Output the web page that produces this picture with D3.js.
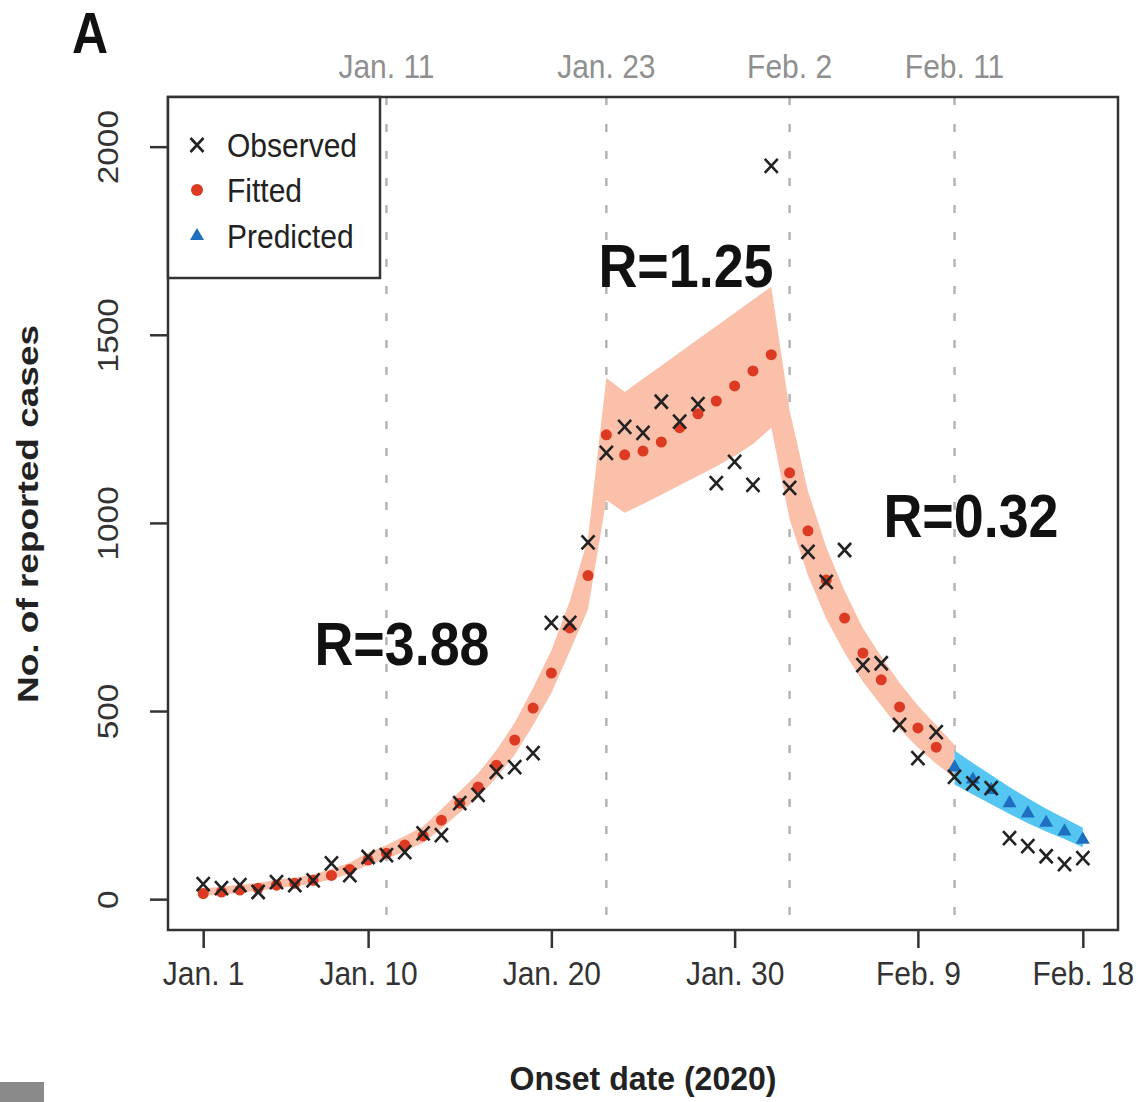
<!DOCTYPE html>
<html>
<head>
<meta charset="utf-8">
<script src="https://cdn.jsdelivr.net/npm/d3@7"></script>
<style>
  html, body { margin: 0; padding: 0; background: #fff; }
  svg { display: block; font-family: "Liberation Sans", Arial, sans-serif; }
</style>
</head>
<body>
<div id="chart"></div>
<script>
// Daily counts, Jan 1 - Feb 18 2020
const observed = [40, 29, 37, 19, 45, 37, 50, 95, 64, 112,
  117, 125, 175, 170, 255, 277, 338, 351, 388, 734,
  734, 948, 1186, 1255, 1239, 1322, 1269, 1316, 1106, 1162,
  1101, 1949, 1093, 923, 843, 928, 622, 627, 463, 375,
  444, 325, 308, 295, 162, 141, 114, 93, 109];

// Fitted, Jan 1 - Feb 10
const fitted = [15, 19, 24, 29, 37, 42, 50, 63, 79, 104,
  122, 144, 168, 210, 255, 298, 356, 423, 508, 601,
  721, 860, 1234, 1181, 1191, 1215, 1253, 1290, 1324, 1364,
  1404, 1447, 1133, 979, 848, 747, 654, 583, 511, 455, 404];

// Fitted band, Jan 1 - Feb 11
const fittedLower = [9, 12, 17, 22, 29, 34, 41, 53, 68, 91,
  107, 127, 150, 188, 230, 269, 323, 384, 462, 548,
  658, 770, 1061, 1027, 1050, 1075, 1100, 1125, 1150, 1178,
  1210, 1253, 1010, 860, 745, 655, 578, 515, 452, 403, 360, 322];
const fittedUpper = [28, 33, 38, 43, 52, 57, 66, 80, 97, 124,
  144, 168, 193, 239, 287, 334, 396, 469, 561, 661,
  791, 960, 1386, 1348, 1383, 1418, 1453, 1488, 1523, 1558,
  1593, 1628, 1300, 1085, 935, 820, 720, 645, 575, 515, 462, 410];

// Predicted, Feb 11 - Feb 18
const predicted = [350, 318, 290, 255, 228, 203, 180, 158];
const predLower = [305, 278, 252, 226, 202, 180, 160, 138];
const predUpper = [395, 362, 330, 298, 268, 240, 215, 190];

const bottomTicks = ["2020-01-01", "2020-01-10", "2020-01-20", "2020-01-30", "2020-02-09", "2020-02-18"];
const bottomTickLabels = ["Jan. 1", "Jan. 10", "Jan. 20", "Jan. 30", "Feb. 9", "Feb. 18"];
const markerDates = ["2020-01-11", "2020-01-23", "2020-02-02", "2020-02-11"];
const markerLabels = ["Jan. 11", "Jan. 23", "Feb. 2", "Feb. 11"];
const yTicks = [0, 500, 1000, 1500, 2000];
const rLabels = ["R=3.88", "R=1.25", "R=0.32"];
const legendLabels = ["Observed", "Fitted", "Predicted"];

const parse = d3.utcParse("%Y-%m-%d");
const start = parse("2020-01-01");
const dayList = (from, n) => d3.utcDay.range(from, d3.utcDay.offset(from, n));

const obsData = dayList(start, observed.length).map((d, i) => ({ date: d, v: observed[i] }));
const fitData = dayList(start, fitted.length).map((d, i) => ({ date: d, v: fitted[i] }));
const fitBand = dayList(start, fittedLower.length).map((d, i) => ({ date: d, lo: fittedLower[i], hi: fittedUpper[i] }));
const predStart = parse("2020-02-11");
const predData = dayList(predStart, predicted.length).map((d, i) => ({ date: d, v: predicted[i], lo: predLower[i], hi: predUpper[i] }));

const W = 1138, H = 1102;
const plot = { left: 168, right: 1118, top: 97, bottom: 930 };

const svg = d3.select("#chart").append("svg")
  .attr("width", W).attr("height", H)
  .attr("viewBox", `0 0 ${W} ${H}`);

// R style 4% padding
const padX = (plot.right - plot.left) * 0.04 / 1.08;
const x = d3.scaleUtc()
  .domain([start, parse("2020-02-18")])
  .range([plot.left + padX, plot.right - padX]);
const padY = (plot.bottom - plot.top) * 0.04 / 1.08;
const y = d3.scaleLinear()
  .domain([0, 2050])
  .range([plot.bottom - padY, plot.top + padY]);

// dashed reference lines
svg.selectAll(".ref-line")
  .data(markerDates)
  .enter().append("line")
  .attr("x1", d => x(parse(d))).attr("x2", d => x(parse(d)))
  .attr("y1", plot.top).attr("y2", plot.bottom)
  .attr("stroke", "#b4b4b4")
  .attr("stroke-width", 2.5)
  .attr("stroke-dasharray", "8 19");

svg.selectAll(".ref-label")
  .data(markerDates)
  .enter().append("text")
  .attr("transform", d => `translate(${x(parse(d))},78) scale(1,1.1)`)
  .attr("text-anchor", "middle")
  .attr("font-size", 30)
  .attr("fill", "#8f8f8f")
  .text((d, i) => markerLabels[i]);

// bands
const area = d3.area()
  .x(d => x(d.date))
  .y0(d => y(d.lo))
  .y1(d => y(d.hi))
  .curve(d3.curveLinear);

svg.append("path")
  .datum(fitBand)
  .attr("d", area)
  .attr("fill", "#fbc0aa");

svg.append("path")
  .datum(predData)
  .attr("d", area)
  .attr("fill", "#55c6f2");

// fitted dots
svg.selectAll(".fit")
  .data(fitData)
  .enter().append("circle")
  .attr("cx", d => x(d.date))
  .attr("cy", d => y(d.v))
  .attr("r", 5.5)
  .attr("fill", "#dc3a22");

// predicted triangles
const tri = d3.symbol().type(d3.symbolTriangle).size(85);
svg.selectAll(".pred")
  .data(predData)
  .enter().append("path")
  .attr("d", tri)
  .attr("transform", d => `translate(${x(d.date)},${y(d.v)})`)
  .attr("fill", "#1e6fc0");

// observed crosses
const cross = "M-6.5,-7L6.5,7M-6.5,7L6.5,-7";
svg.selectAll(".obs")
  .data(obsData)
  .enter().append("path")
  .attr("d", cross)
  .attr("transform", d => `translate(${x(d.date)},${y(d.v)})`)
  .attr("stroke", "#222")
  .attr("stroke-width", 2.6)
  .attr("fill", "none");

// R annotations
const rPos = [[402, 665], [686, 287], [971, 537]];
svg.selectAll(".r-label")
  .data(rLabels)
  .enter().append("text")
  .attr("x", (d, i) => rPos[i][0])
  .attr("y", (d, i) => rPos[i][1])
  .attr("text-anchor", "middle")
  .attr("font-size", 62)
  .attr("font-weight", "bold")
  .attr("textLength", 175)
  .attr("lengthAdjust", "spacingAndGlyphs")
  .attr("fill", "#111")
  .text(d => d);

// box
svg.append("rect")
  .attr("x", plot.left).attr("y", plot.top)
  .attr("width", plot.right - plot.left)
  .attr("height", plot.bottom - plot.top)
  .attr("fill", "none")
  .attr("stroke", "#333")
  .attr("stroke-width", 2.5);

// y axis
const yAxis = svg.append("g")
  .attr("transform", `translate(${plot.left},0)`)
  .call(d3.axisLeft(y).tickValues(yTicks).tickFormat(d3.format("d")).tickSize(18));
yAxis.select(".domain").remove();
yAxis.selectAll(".tick line").attr("stroke", "#333").attr("stroke-width", 2.5);
yAxis.selectAll(".tick text")
  .attr("x", null).attr("dy", null)
  .attr("transform", "translate(-50,0) rotate(-90) scale(1.15,1)")
  .attr("text-anchor", "middle")
  .attr("font-size", 29)
  .attr("font-family", "Liberation Sans, Arial, sans-serif")
  .attr("fill", "#333");

// x axis
const xAxis = svg.append("g")
  .attr("transform", `translate(0,${plot.bottom})`)
  .call(d3.axisBottom(x)
    .tickValues(bottomTicks.map(parse))
    .tickFormat((d, i) => bottomTickLabels[i])
    .tickSize(18));
xAxis.select(".domain").remove();
xAxis.selectAll(".tick line").attr("stroke", "#333").attr("stroke-width", 2.5);
xAxis.selectAll(".tick text")
  .attr("y", null).attr("dy", null)
  .attr("transform", "translate(0,55) scale(1,1.1)")
  .attr("font-size", 30)
  .attr("font-family", "Liberation Sans, Arial, sans-serif")
  .attr("fill", "#333");

// axis titles
svg.append("text")
  .attr("x", 643).attr("y", 1090)
  .attr("text-anchor", "middle")
  .attr("font-size", 33)
  .attr("font-weight", "bold")
  .attr("textLength", 267)
  .attr("lengthAdjust", "spacingAndGlyphs")
  .attr("fill", "#222")
  .text("Onset date (2020)");

svg.append("text")
  .attr("transform", "translate(38,514) rotate(-90)")
  .attr("text-anchor", "middle")
  .attr("font-size", 29)
  .attr("font-weight", "bold")
  .attr("textLength", 378)
  .attr("lengthAdjust", "spacingAndGlyphs")
  .attr("fill", "#222")
  .text("No. of reported cases");

// panel letter
svg.append("text")
  .attr("transform", "translate(72,53) scale(1,1.15)")
  .attr("font-size", 50)
  .attr("font-weight", "bold")
  .attr("fill", "#111")
  .text("A");

// legend
const lg = svg.append("g");
lg.append("rect")
  .attr("x", plot.left).attr("y", plot.top)
  .attr("width", 212).attr("height", 181)
  .attr("fill", "#fff")
  .attr("stroke", "#333")
  .attr("stroke-width", 2.5);

const rowY = [145, 190, 236];
lg.append("path").attr("d", cross)
  .attr("transform", `translate(197,${rowY[0]})`)
  .attr("stroke", "#222").attr("stroke-width", 2.6).attr("fill", "none");
lg.append("circle").attr("cx", 197).attr("cy", rowY[1]).attr("r", 6).attr("fill", "#dc3a22");
lg.append("path").attr("d", tri)
  .attr("transform", `translate(197,${rowY[2]})`)
  .attr("fill", "#1e6fc0");

lg.selectAll(".lg-text")
  .data(legendLabels)
  .enter().append("text")
  .attr("transform", (d, i) => `translate(227,${rowY[i] + 12}) scale(1,1.1)`)
  .attr("font-size", 30)
  .attr("fill", "#222")
  .text(d => d);

// cropped neighbour panel edge, bottom-left
svg.append("rect")
  .attr("x", 0).attr("y", 1082)
  .attr("width", 44).attr("height", 20)
  .attr("fill", "#8a8a8a");
</script>
</body>
</html>
